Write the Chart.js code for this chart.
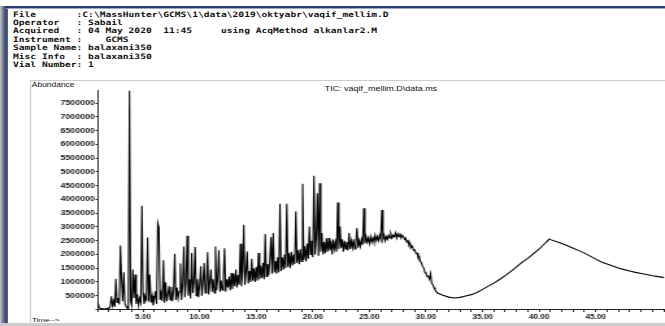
<!DOCTYPE html>
<html>
<head>
<meta charset="utf-8">
<title>TIC: vaqif_mellim.D\data.ms</title>
<script src="https://cdn.jsdelivr.net/npm/chart.js@4.4.1/dist/chart.umd.min.js"></script>
<style>
  html, body { margin: 0; padding: 0; background: #fff; }
  /* the source screenshot is stretched sideways, so the sheet is laid out at 512px and widened */
  #sheet { position: relative; width: 512px; height: 326px; overflow: hidden; background: #fff;
           transform: scaleX(1.2988); transform-origin: 0 0; }
  .abs { position: absolute; }
  #edgeLeft { left: 0; top: 6px; width: 6px; height: 320px;
              background: linear-gradient(to right, #c3c6cc, #56617c 55%, #2b3a60); }
  #edgeTop { left: 4px; top: 6px; width: 508px; height: 2px; background: #2a3f73; }
  #edgeTop2 { left: 5px; top: 8px; width: 507px; height: 1px; background: #9aa8c8; }
  #edgeBottom { left: 0; top: 323px; width: 512px; height: 3px; background: #cbcbcb; }
  #header { left: 10px; top: 10.5px; margin: 0; font: bold 7.4px "DejaVu Sans Mono", monospace;
            line-height: 8.4px; white-space: pre; color: #111; }
  #frameTop { left: 23px; top: 80px; width: 489px; height: 1px; background: #cdcdcd; }
  #frameLeft { left: 23px; top: 80px; width: 1px; height: 243px; background: #cdcdcd; }
  .lbl { font-family: "Liberation Sans", Arial, sans-serif; color: #111; white-space: nowrap; line-height: 8px; }
  #abund { left: 24.5px; top: 80.5px; font-size: 6.5px; }
  #tic { left: 250px; top: 84.5px; font-size: 6.9px; }
  #timeLbl { left: 24.6px; top: 315.5px; font-size: 6.2px; }
  #plot { position: absolute; left: 0; top: 0; }
</style>
</head>
<body>
<div id="sheet">
  <div id="edgeLeft" class="abs"></div>
  <div id="edgeTop" class="abs"></div>
  <div id="edgeTop2" class="abs"></div>
  <pre id="header" class="abs">File       :C:\MassHunter\GCMS\1\data\2019\oktyabr\vaqif_mellim.D
Operator   : Sabail
Acquired   : 04 May 2020  11:45     using AcqMethod alkanlar2.M
Instrument :    GCMS
Sample Name: balaxani350
Misc Info  : balaxani350
Vial Number: 1</pre>
  <div id="frameTop" class="abs"></div>
  <div id="frameLeft" class="abs"></div>
  <div id="abund" class="abs lbl">Abundance</div>
  <div id="tic" class="abs lbl">TIC: vaqif_mellim.D\data.ms</div>
  <div id="timeLbl" class="abs lbl">Time--&gt;</div>
  <canvas id="plot" width="512" height="326"></canvas>
  <div id="edgeBottom" class="abs"></div>
</div>
<script>
// Scan grid for the busy part of the run (minutes)
const scanStart = 1.0;
const scanStep = 0.1;
// Abundance (thousands) per scan, one row per minute, 1.0 .. 31.0 min
const scanAbundanceK = [
  250, 110, 50, 30, 25, 25, 20, 25, 30, 60,
  40, 120, 480, 140, 320, 90, 1120, 260, 420, 180,
  2330, 1090, 300, 1350, 200, 120, 60, 40, 7950, 300,
  150, 1450, 420, 1270, 200, 550, 150, 400, 250, 3770,
  600, 200, 450, 350, 2620, 300, 1270, 250, 500, 150,
  400, 660, 200, 3140, 2980, 350, 600, 300, 1790, 250,
  990, 300, 550, 850, 350, 820, 300, 700, 2030, 350,
  800, 400, 650, 1670, 350, 900, 2290, 450, 1000, 2680,
  500, 1100, 400, 2050, 600, 1000, 2270, 500, 1100, 450,
  900, 1570, 500, 1000, 1690, 600, 900, 2080, 550, 1000,
  1450, 650, 1100, 600, 2290, 700, 1150, 2150, 650, 1050,
  700, 1200, 2230, 650, 1100, 800, 1200, 700, 1330, 750,
  1300, 850, 1450, 800, 1250, 900, 2390, 850, 1400, 3080,
  900, 1350, 2110, 950, 1400, 1000, 1840, 1050, 1500, 1000,
  1550, 1050, 2050, 1100, 1600, 1150, 1700, 1100, 2740, 1200,
  1650, 1250, 1800, 2630, 1300, 2780, 1350, 1750, 1300, 1900,
  1350, 3840, 1400, 1900, 1450, 2000, 1500, 3840, 1550, 2050,
  1500, 2100, 1600, 2000, 1650, 3560, 1700, 2150, 1650, 2200,
  1750, 4570, 1800, 2300, 1750, 2400, 1850, 3020, 2000, 2500,
  1900, 4860, 2000, 2600, 4230, 1950, 4590, 2100, 2780, 2000,
  2450, 2050, 2600, 2100, 2600, 2150, 2500, 2000, 2550, 2200,
  2450, 2100, 3890, 2200, 3020, 2250, 2550, 2100, 2500, 2200,
  2450, 2150, 2780, 2200, 2500, 2250, 2550, 2200, 2400, 2960,
  2250, 2500, 2300, 2550, 2350, 3680, 2400, 2650, 2450, 2600,
  2400, 2650, 2450, 2600, 2450, 2700, 2500, 2650, 2500, 2700,
  2550, 3620, 2550, 2700, 2500, 2650, 2550, 2700, 2600, 2750,
  2600, 2700, 2650, 2780, 2600, 2750, 2650, 2780, 2600, 2700,
  2650, 2550, 2600, 2450, 2500, 2350, 2400, 2250, 2300, 2150,
  2170, 2050, 2050, 1900, 1930, 1750, 1700, 1550, 1510, 1350,
  1300, 1200, 1210, 1100, 1300, 950, 910, 800, 720, 650,
  600
];
// Smooth column-bleed hump at the end of the run
const tailTimes = [31.5, 32.0, 32.5, 33.0, 33.5, 34.0, 34.5, 35.0, 35.5, 36.0,
                   36.5, 37.0, 37.5, 38.0, 38.5, 39.0, 39.5, 40.0, 40.5, 40.9,
                   41.0, 41.5, 42.0, 42.5, 43.0, 43.5, 44.0, 44.5, 45.0, 45.5,
                   46.0, 46.5, 47.0, 47.5, 48.0, 48.5, 49.0, 49.5, 50.0, 50.5, 51.05];
const tailAbundanceK = [520, 450, 420, 440, 490, 540, 620, 730, 850, 960,
                        1090, 1230, 1390, 1550, 1720, 1860, 2030, 2200, 2400, 2560,
                        2540, 2470, 2400, 2320, 2230, 2140, 2050, 1940, 1830, 1730,
                        1650, 1580, 1510, 1450, 1400, 1350, 1310, 1270, 1230, 1195, 1160];

// Axis marks: a tick every minute, labels every five; abundance every 500000
const timeLabels = [5, 10, 15, 20, 25, 30, 35, 40, 45];
const abundanceTicks = [500000, 1000000, 1500000, 2000000, 2500000, 3000000, 3500000,
                        4000000, 4500000, 5000000, 5500000, 6000000, 6500000, 7000000, 7500000];

const points = [];
scanAbundanceK.forEach(function(v, i) {
  points.push({ x: +(scanStart + i * scanStep).toFixed(2), y: v * 1000 });
});
tailTimes.forEach(function(t, i) {
  points.push({ x: t, y: tailAbundanceK[i] * 1000 });
});

const minuteTicks = [];
for (let m = 1; m <= 51; m++) minuteTicks.push({ value: m });

const labelFamily = "'Liberation Sans', Arial, sans-serif";

new Chart(document.getElementById('plot'), {
  type: 'line',
  data: {
    datasets: [{
      data: points,
      borderColor: '#050505',
      borderWidth: 1.1,
      pointRadius: 0,
      tension: 0,
      fill: false
    }]
  },
  options: {
    responsive: false,
    animation: false,
    devicePixelRatio: 1,
    events: [],
    layout: { padding: { top: 90, left: 0, right: 0, bottom: 0 } },
    plugins: { legend: { display: false }, tooltip: { enabled: false }, title: { display: false } },
    scales: {
      x: {
        type: 'linear',
        min: 0.97,
        max: 51.05,
        afterFit: function(scale) { scale.height = 16.5; },
        afterBuildTicks: function(scale) { scale.ticks = minuteTicks.slice(); },
        border: { display: true, color: '#222', width: 1 },
        grid: { drawOnChartArea: false, drawTicks: true, tickLength: 2.5, color: '#333' },
        ticks: {
          autoSkip: false,
          maxRotation: 0,
          minRotation: 0,
          padding: 1,
          color: '#1a1a1a',
          font: { family: labelFamily, size: 6.3, weight: 'bold' },
          callback: function(v) { return timeLabels.indexOf(v) >= 0 ? v.toFixed(2) : ''; }
        }
      },
      y: {
        min: 0,
        max: 7980000,
        afterFit: function(scale) { scale.width = 75; },
        afterBuildTicks: function(scale) {
          scale.ticks = [{ value: 0 }].concat(abundanceTicks.map(function(v) { return { value: v }; }));
        },
        border: { display: true, color: '#333', width: 1, dash: [1, 1] },
        grid: { drawOnChartArea: false, drawTicks: true, tickLength: 1.5, color: '#333' },
        ticks: {
          autoSkip: false,
          padding: 0.5,
          color: '#1a1a1a',
          font: { family: labelFamily, size: 6.8, weight: 'bold' },
          callback: function(v) { return abundanceTicks.indexOf(v) >= 0 ? String(v) : ''; }
        }
      }
    }
  }
});
</script>
</body>
</html>
